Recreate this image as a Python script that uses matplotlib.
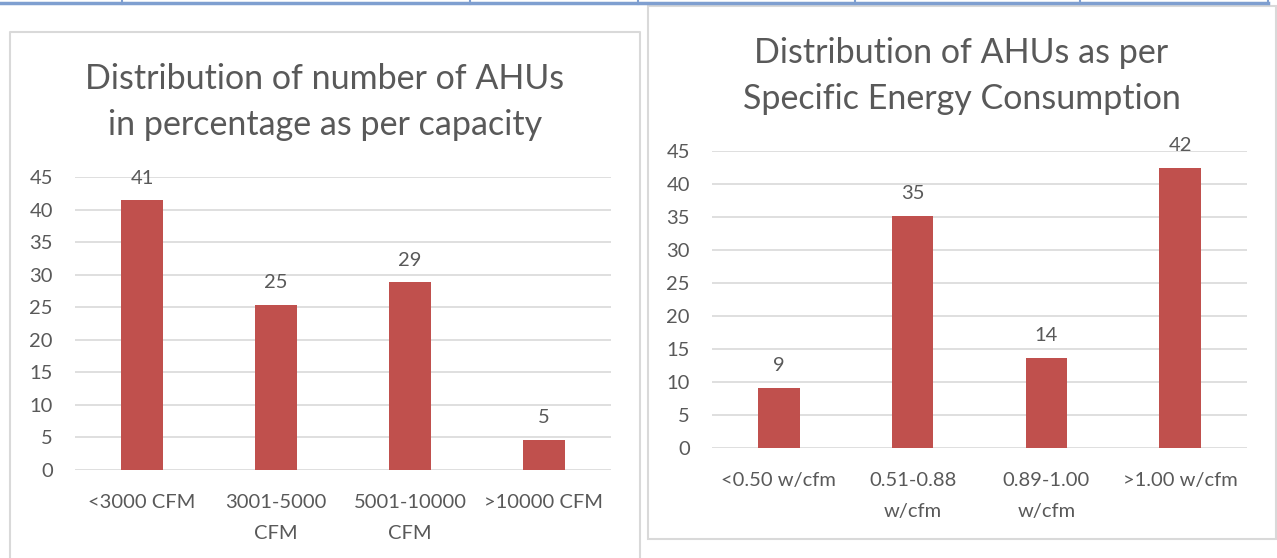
import matplotlib
matplotlib.use("Agg")
import matplotlib.pyplot as plt
from matplotlib.patches import Rectangle
from matplotlib.lines import Line2D

# chart data
cap_categories = ["<3000 CFM", "3001-5000\nCFM", "5001-10000\nCFM", ">10000 CFM"]
cap_values = [41.4, 25.3, 28.8, 4.6]
cap_title = "Distribution of number of AHUs\nin percentage as per capacity"

sec_categories = ["<0.50 w/cfm", "0.51-0.88\nw/cfm", "0.89-1.00\nw/cfm", ">1.00 w/cfm"]
sec_values = [9.1, 35.2, 13.6, 42.4]
sec_title = "Distribution of AHUs as per\nSpecific Energy Consumption"

y_ticks = list(range(0, 50, 5))

W, H = 1277, 558
BAR = "#C0504D"
TXT = "#595959"
GRID = "#D9D9D9"
plt.rcParams["font.family"] = ["Lato", "DejaVu Sans"]

fig = plt.figure(figsize=(W / 100, H / 100), dpi=100)


def px_box(x0, y0, x1, y1):
    # pixel box (top-left origin) -> figure fraction [l, b, w, h]
    return [x0 / W, 1 - y1 / H, (x1 - x0) / W, (y1 - y0) / H]


def fig_line(xs, ys, **kw):
    fig.add_artist(Line2D([x / W for x in xs], [1 - y / H for y in ys],
                          transform=fig.transFigure, **kw))


# table rule at the top of the page
fig_line([0, 1268], [3, 3], color="#7F9FD0", lw=2.5)
for vx in [122, 470, 638, 855, 1080, 1268]:
    fig_line([vx, vx], [0, 4], color="#7F9FD0", lw=1.5)

# chart frames
fig_line([10, 10, 640, 640], [558, 32, 32, 558], color=GRID, lw=1.5)
fig.add_artist(Rectangle((648 / W, 1 - 539 / H), (1276 - 648) / W, (539 - 6) / H,
                         transform=fig.transFigure, fill=False, ec=GRID, lw=1.5))


def bar_chart(box, cats, vals, title, title_y):
    ax = fig.add_axes(px_box(*box))
    x = range(len(cats))
    bars = ax.bar(x, vals, width=0.31, color=BAR, zorder=3)
    ax.bar_label(bars, labels=[f"{v:.0f}" for v in vals], padding=10,
                 fontsize=14.5, color=TXT)
    ax.set_xlim(-0.5, len(cats) - 0.5)
    ax.set_ylim(0, 45)
    ax.set_yticks(y_ticks)
    ax.set_xticks(list(x))
    ax.set_xticklabels(cats, linespacing=2.05)
    ax.tick_params(length=0, labelsize=14.5, labelcolor=TXT)
    ax.tick_params(axis="x", pad=17)
    ax.tick_params(axis="y", pad=16)
    ax.grid(axis="y", color=GRID, lw=1.2, zorder=0)
    ax.set_axisbelow(True)
    for s in ax.spines.values():
        s.set_visible(False)
    ax.set_facecolor("none")
    cx = (box[0] + box[2]) / 2 - 18
    fig.text(cx / W, 1 - title_y / H, title, ha="center", va="center",
             fontsize=24.5, color=TXT, linespacing=1.55)
    return ax


bar_chart((75, 177, 611, 470), cap_categories, cap_values, cap_title, 102)
bar_chart((712, 151, 1247, 448), sec_categories, sec_values, sec_title, 76)

fig.savefig("out.png", dpi=100)
